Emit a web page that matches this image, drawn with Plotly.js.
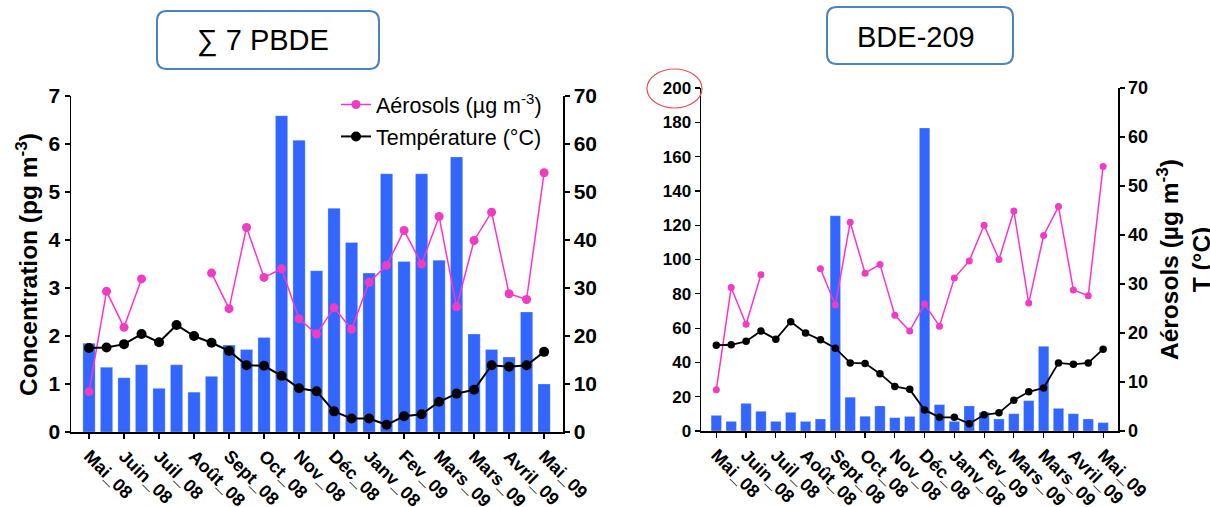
<!DOCTYPE html>
<html>
<head>
<meta charset="utf-8">
<script src="https://cdn.plot.ly/plotly-3.0.1.min.js"></script>
<style>html,body{margin:0;padding:0;background:#fff;}#chart{width:1210px;height:507px;}</style>
</head>
<body>
<div id="chart"></div>
<script>
// ---- data ----
const samples = [0,1,2,3,4,5,6,7,8,9,10,11,12,13,14,15,16,17,18,19,20,21,22,23,24,25,26];
const labelPos = [0,2,4,6,8,10,12,14,16,18,20,22,24,26];
const monthLabels = ['Mai_08','Juin_08','Juil_08','Août_08','Sept_08','Oct_08','Nov_08','Déc_08','Janv_08','Fev_09','Mars_09','Mars_09','Avril_09','Mai_09'];
const sum7PBDE = [1.85,1.35,1.13,1.40,0.91,1.40,0.83,1.16,1.81,1.72,1.97,6.59,6.08,3.36,4.66,3.95,3.31,5.38,3.55,5.38,3.58,5.73,2.04,1.72,1.56,2.50,1.00];
const bde209 = [9.1,5.6,16.1,11.5,5.6,10.9,5.6,7.0,125.5,19.7,8.6,14.6,7.8,8.5,176.7,15.4,5.6,14.6,10.9,7.0,10.1,17.7,49.4,13.2,10.1,7.0,4.9];
const aerosols = [8.4,29.3,21.8,31.9,null,null,null,33.1,25.7,42.6,32.2,34.0,23.6,20.4,25.9,21.4,31.2,34.7,42.0,35.0,44.9,26.1,39.9,45.8,28.8,27.6,54.0];
const temperature = [17.5,17.6,18.3,20.4,18.7,22.3,20.0,18.6,16.9,13.9,13.8,11.7,9.1,8.5,4.3,2.8,2.8,1.5,3.3,3.7,6.3,8.0,8.8,13.9,13.6,13.9,16.7];

// ---- styling ----
const W = 1210, H = 507;
const FONT = 'Liberation Sans, Arial, sans-serif';
const BAR = '#3366FF', PINK = '#FF33CC', PINKM = '#F03CC0';
const px = v => v / W, py = v => 1 - v / H;

const traces = [
  {type:'bar', x:samples, y:sum7PBDE, xaxis:'x', yaxis:'y', width:0.7, showlegend:false,
   marker:{color:BAR, line:{color:'rgba(255,255,255,0.5)', width:0.5}}},
  {type:'scatter', mode:'lines+markers', x:samples, y:aerosols, xaxis:'x', yaxis:'y2',
   name:'Aérosols (µg m<sup>-3</sup>)', legendgroup:'a',
   line:{color:PINK, width:1.5}, marker:{color:PINKM, size:9}},
  {type:'scatter', mode:'lines+markers', x:samples, y:temperature, xaxis:'x', yaxis:'y2',
   name:'Température (°C)', legendgroup:'b',
   line:{color:'#000', width:2}, marker:{color:'#000', size:10}},
  {type:'bar', x:samples, y:bde209, xaxis:'x2', yaxis:'y3', width:0.7, showlegend:false,
   marker:{color:BAR, line:{color:'rgba(255,255,255,0.5)', width:0.5}}},
  {type:'scatter', mode:'lines+markers', x:samples, y:aerosols, xaxis:'x2', yaxis:'y4', showlegend:false,
   line:{color:PINK, width:1.5}, marker:{color:PINKM, size:7}},
  {type:'scatter', mode:'lines+markers', x:samples, y:temperature, xaxis:'x2', yaxis:'y4', showlegend:false,
   line:{color:'#000', width:1.8}, marker:{color:'#000', size:7.5}}
];

const axBase = {showline:true, linecolor:'#000', linewidth:1.5, ticks:'outside', ticklen:5, tickwidth:1.2,
  tickcolor:'#000', showgrid:false, zeroline:false, fixedrange:true};
const xTick = {family:FONT, size:18, color:'#000', weight:'bold'};

const layout = {
  width:W, height:H, margin:{l:0, r:0, t:0, b:0}, paper_bgcolor:'#fff', plot_bgcolor:'rgba(0,0,0,0)',
  font:{family:FONT, color:'#000'}, bargap:0,
  showlegend:true,
  legend:{x:px(336), y:py(84), xanchor:'left', yanchor:'top', bgcolor:'rgba(0,0,0,0)',
    font:{family:FONT, size:21.5, color:'#000'}, traceorder:'grouped', tracegroupgap:1, itemwidth:30},
  xaxis:Object.assign({}, axBase, {domain:[px(71), px(563)], range:[-1.03, 27.08], anchor:'y',
    tickmode:'array', tickvals:labelPos, ticktext:monthLabels, tickangle:45, tickfont:xTick}),
  yaxis:Object.assign({}, axBase, {domain:[1-432/H, 1-96/H], range:[0,7], dtick:1, anchor:'x',
    tickfont:{family:FONT, size:21, color:'#000', weight:'bold'}}),
  yaxis2:Object.assign({}, axBase, {overlaying:'y', side:'right', anchor:'x', range:[0,70], dtick:10,
    tickfont:{family:FONT, size:21, color:'#000', weight:'bold'}}),
  xaxis2:Object.assign({}, axBase, {domain:[px(701), px(1118)], range:[-1.03, 27.0], anchor:'y3',
    tickmode:'array', tickvals:labelPos, ticktext:monthLabels, tickangle:45, tickfont:xTick}),
  yaxis3:Object.assign({}, axBase, {domain:[1-431/H, 1-88/H], range:[0,200], dtick:20, anchor:'x2',
    tickfont:{family:FONT, size:17, color:'#000', weight:'bold'}}),
  yaxis4:Object.assign({}, axBase, {overlaying:'y3', side:'right', anchor:'x2', range:[0,70], dtick:10,
    tickfont:{family:FONT, size:18, color:'#000', weight:'bold'}}),
  annotations:[
    {xref:'paper', yref:'paper', x:px(26), y:py(265), xanchor:'center', yanchor:'middle',
     text:'Concentration (pg m<sup>-3</sup>)', textangle:-90,
     showarrow:false, font:{family:FONT, size:24.5, color:'#000', weight:'bold'}},
    {xref:'paper', yref:'paper', x:px(1183), y:py(260), xanchor:'center', yanchor:'middle',
     text:'Aérosols (µg m<sup>-3</sup>)<br>T (°C)', textangle:-90,
     showarrow:false, font:{family:FONT, size:24.5, color:'#000', weight:'bold'}},
    {xref:'paper', yref:'paper', x:px(263), y:py(41), xanchor:'center', yanchor:'middle',
     text:'∑ 7 PBDE', showarrow:false, font:{family:FONT, size:29, color:'#000'}},
    {xref:'paper', yref:'paper', x:px(916), y:py(37), xanchor:'center', yanchor:'middle',
     text:'BDE-209', showarrow:false, font:{family:FONT, size:29, color:'#000'}}
  ],
  shapes:[]
};

function roundRect(x0, y0, x1, y1, r) {
  const X = v => px(v).toFixed(5), Y = v => py(v).toFixed(5);
  return `M ${X(x0+r)} ${Y(y0)} L ${X(x1-r)} ${Y(y0)} Q ${X(x1)} ${Y(y0)} ${X(x1)} ${Y(y0+r)} ` +
         `L ${X(x1)} ${Y(y1-r)} Q ${X(x1)} ${Y(y1)} ${X(x1-r)} ${Y(y1)} ` +
         `L ${X(x0+r)} ${Y(y1)} Q ${X(x0)} ${Y(y1)} ${X(x0)} ${Y(y1-r)} ` +
         `L ${X(x0)} ${Y(y0+r)} Q ${X(x0)} ${Y(y0)} ${X(x0+r)} ${Y(y0)} Z`;
}
const boxLine = {color:'#4F81BD', width:2};
layout.shapes.push({type:'path', xref:'paper', yref:'paper', path:roundRect(157, 11, 379, 69, 10), line:boxLine});
layout.shapes.push({type:'path', xref:'paper', yref:'paper', path:roundRect(827, 7, 1013, 64, 10), line:boxLine});
layout.shapes.push({type:'circle', xref:'paper', yref:'paper', x0:px(647), x1:px(702), y0:py(108), y1:py(69),
  line:{color:'#E8505A', width:1.2}});

Plotly.newPlot('chart', traces, layout, {staticPlot:true, displayModeBar:false});
</script>
</body>
</html>
